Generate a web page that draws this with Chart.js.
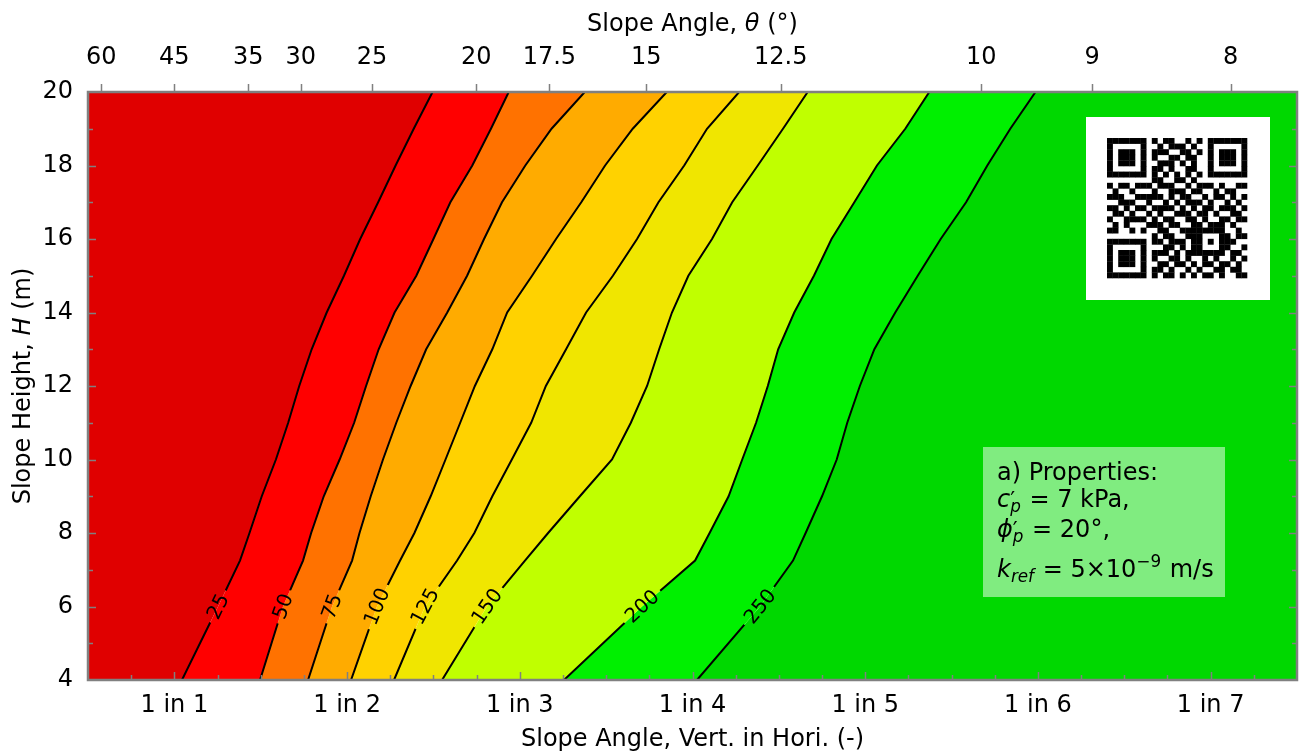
<!DOCTYPE html>
<html>
<head>
<meta charset="utf-8">
<script src="https://cdn.jsdelivr.net/npm/chart.js@4/dist/chart.umd.min.js"></script>
<style>
  html, body { margin: 0; padding: 0; background: #fff; }
</style>
</head>
<body>
<canvas id="chart" width="1299" height="751"></canvas>
<script>
// slope height (m) at which each contour was read
var heights = [4, 6, 7.25, 8, 9, 10, 11, 12, 13, 14, 15, 16, 17, 18, 19, 20];
var levels = [25, 50, 75, 100, 125, 150, 200, 250];

// horizontal part N of "1 in N" for every contour, one value per height
var ratio25  = [1.044, 1.253, 1.380, 1.435, 1.506, 1.588, 1.659, 1.723, 1.795, 1.882, 1.982, 2.076, 2.180, 2.281, 2.386, 2.495];
var ratio50  = [1.496, 1.629, 1.745, 1.792, 1.865, 1.957, 2.041, 2.110, 2.183, 2.275, 2.401, 2.500, 2.598, 2.725, 2.833, 2.936];
var ratio75  = [1.774, 1.913, 2.029, 2.072, 2.137, 2.208, 2.285, 2.368, 2.458, 2.580, 2.695, 2.793, 2.897, 3.032, 3.184, 3.376];
var ratio100 = [2.023, 2.173, 2.307, 2.390, 2.484, 2.570, 2.655, 2.740, 2.841, 2.927, 3.071, 3.210, 3.356, 3.494, 3.654, 3.851];
var ratio125 = [2.272, 2.451, 2.637, 2.737, 2.841, 2.954, 3.066, 3.151, 3.268, 3.384, 3.539, 3.679, 3.803, 3.952, 4.084, 4.270];
var ratio150 = [2.550, 2.810, 3.030, 3.164, 3.348, 3.534, 3.643, 3.737, 3.807, 3.881, 3.976, 4.113, 4.230, 4.378, 4.524, 4.667];
var ratio200 = [3.256, 3.708, 4.015, 4.099, 4.209, 4.288, 4.368, 4.436, 4.496, 4.589, 4.703, 4.805, 4.937, 5.068, 5.232, 5.371];
var ratio250 = [4.026, 4.391, 4.582, 4.655, 4.750, 4.835, 4.896, 4.969, 5.053, 5.174, 5.304, 5.437, 5.584, 5.707, 5.840, 5.986];

var ratioTicks = [1, 2, 3, 4, 5, 6, 7];
var angleTicks = [60, 45, 35, 30, 25, 20, 17.5, 15, 12.5, 10, 9, 8];
var heightTicks = [4, 6, 8, 10, 12, 14, 16, 18, 20];

var X_MIN = 0.5, X_MAX = 7.5;
var bandColors = ['#e00000', '#ff0000', '#ff7200', '#ffab00', '#ffd200', '#f0e600', '#c0ff00', '#00f000', '#00d800'];
var FONT = '"DejaVu Sans", "Liberation Sans", sans-serif';
var GREY = '#808080';

// QR code modules (25 x 25)
var qrRows = [
    "1111111010110010101111111",
    "1000001001011101001000001",
    "1011101011100110101011101",
    "1011101010011011001011101",
    "1011101001110101001011101",
    "1000001011010011001000001",
    "1111111010101010101111111",
    "0000000011001101000000000",
    "1011011101110010111010011",
    "0100100010011101100101100",
    "1110011111010110010110101",
    "0011100100101011101001010",
    "1101011011110101011011101",
    "0110100101001110110100110",
    "1001111010110011010011011",
    "0101000111011001101110100",
    "1100101001100111111110010",
    "0000000010110011100011011",
    "1111111011011101101011100",
    "1000001000110101100011001",
    "1011101011101011111110110",
    "1011101010011010010100101",
    "1011101001101101011011010",
    "1000001011010010100110110",
    "1111111010110101011010011"
];

var contours = [ratio25, ratio50, ratio75, ratio100, ratio125, ratio150, ratio200, ratio250];

function toPoints(arr) {
    return arr.map(function (x, i) { return {x: x, y: heights[i]}; });
}

var datasets = contours.map(function (arr, i) {
    return {
        label: String(levels[i]),
        data: toPoints(arr),
        borderColor: '#000',
        borderWidth: 2,
        pointRadius: 0,
        pointHitRadius: 0,
        backgroundColor: bandColors[i],
        fill: i === 0 ? {value: X_MIN} : '-1'
    };
});
// band to the right of the last contour
datasets.push({
    label: 'edge',
    data: toPoints(ratio250),
    borderWidth: 0,
    borderColor: 'rgba(0,0,0,0)',
    pointRadius: 0,
    pointHitRadius: 0,
    backgroundColor: bandColors[8],
    fill: {value: X_MAX}
});

function fontStr(italic, size) {
    return (italic ? 'italic ' : '') + size + 'px ' + FONT;
}

function runWidth(ctx, r, size) {
    if (r.t !== undefined) {
        ctx.font = fontStr(r.it, size);
        return ctx.measureText(r.t).width;
    }
    var w = 0;
    if (r.sup) { ctx.font = fontStr(r.supIt, size * (r.supScale || 0.7)); w = Math.max(w, ctx.measureText(r.sup).width); }
    if (r.sub) { ctx.font = fontStr(r.subIt, size * 0.7); w = Math.max(w, ctx.measureText(r.sub).width); }
    return w + 1;
}

// draws a line of text with italic / sub / sup pieces
function drawRich(ctx, runs, x, y, align, size) {
    var total = 0;
    runs.forEach(function (r) { total += runWidth(ctx, r, size); });
    var cx = align === 'center' ? x - total / 2 : x;
    ctx.textAlign = 'left';
    ctx.textBaseline = 'alphabetic';
    runs.forEach(function (r) {
        var w = runWidth(ctx, r, size);
        if (r.t !== undefined) {
            ctx.font = fontStr(r.it, size);
            ctx.fillText(r.t, cx, y);
        } else {
            if (r.sup) {
                ctx.font = fontStr(r.supIt, size * (r.supScale || 0.7));
                ctx.fillText(r.sup, cx, y - size * (r.supRaise !== undefined ? r.supRaise : 0.42));
            }
            if (r.sub) { ctx.font = fontStr(r.subIt, size * 0.7); ctx.fillText(r.sub, cx, y + size * 0.22); }
        }
        cx += w;
    });
}

var labelIndex = heights.indexOf(6);
var LABEL_SIZE = 20;

function labelGeometry(chart, i) {
    var meta = chart.getDatasetMeta(i);
    var p = meta.data[labelIndex], a = meta.data[labelIndex - 1], b = meta.data[labelIndex + 1];
    var ang = Math.atan2(b.y - a.y, b.x - a.x);
    chart.ctx.font = fontStr(false, LABEL_SIZE);
    var w = chart.ctx.measureText(String(levels[i])).width;
    return {x: p.x, y: p.y, ang: ang, w: w};
}

var contourPlugin = {
    id: 'contourExtras',
    beforeDatasetDraw: function (chart, args) {
        var i = args.index;
        if (i >= levels.length) return;
        var g = labelGeometry(chart, i);
        var ctx = chart.ctx;
        var hw = g.w / 2 + 5, hh = 12;
        var c = Math.cos(g.ang), s = Math.sin(g.ang);
        ctx.save();
        ctx.beginPath();
        ctx.rect(0, 0, chart.width, chart.height);
        var corners = [[-hw, -hh], [hw, -hh], [hw, hh], [-hw, hh]];
        corners.forEach(function (q, k) {
            var px = g.x + q[0] * c - q[1] * s;
            var py = g.y + q[0] * s + q[1] * c;
            if (k === 0) ctx.moveTo(px, py); else ctx.lineTo(px, py);
        });
        ctx.closePath();
        ctx.clip('evenodd');
    },
    afterDatasetDraw: function (chart, args) {
        if (args.index >= levels.length) return;
        chart.ctx.restore();
    },
    afterDraw: function (chart) {
        var ctx = chart.ctx;
        var area = chart.chartArea;
        var xs = chart.scales.x, xt = chart.scales.x2, ys = chart.scales.y;

        // contour labels
        ctx.save();
        ctx.fillStyle = '#000';
        ctx.font = fontStr(false, LABEL_SIZE);
        ctx.textAlign = 'center';
        ctx.textBaseline = 'middle';
        levels.forEach(function (lv, i) {
            var g = labelGeometry(chart, i);
            ctx.save();
            ctx.translate(g.x, g.y);
            ctx.rotate(g.ang);
            ctx.fillText(String(lv), 0, 1);
            ctx.restore();
        });
        ctx.restore();

        // inward ticks
        ctx.save();
        ctx.strokeStyle = GREY;
        ctx.lineWidth = 1.5;
        ctx.beginPath();
        for (var v = X_MIN + 0.25; v < X_MAX - 0.01; v += 0.25) {
            var px = Math.round(xs.getPixelForValue(v)) + 0.5;
            var len = Math.abs(v - Math.round(v)) < 1e-6 ? 8 : 5;
            ctx.moveTo(px, area.bottom);
            ctx.lineTo(px, area.bottom - len);
        }
        for (var h = 5; h < 20; h++) {
            var py = Math.round(ys.getPixelForValue(h)) + 0.5;
            var l2 = h % 2 === 0 ? 8 : 5;
            ctx.moveTo(area.left, py);
            ctx.lineTo(area.left + l2, py);
            ctx.moveTo(area.right, py);
            ctx.lineTo(area.right - l2, py);
        }
        angleTicks.forEach(function (a) {
            var px = Math.round(xt.getPixelForValue(1 / Math.tan(a * Math.PI / 180))) + 0.5;
            ctx.moveTo(px, area.top);
            ctx.lineTo(px, area.top - 8);
        });
        ctx.stroke();
        // frame
        ctx.lineWidth = 2.5;
        ctx.strokeRect(area.left, area.top, area.right - area.left, area.bottom - area.top);
        ctx.restore();

        // QR code box
        ctx.save();
        var boxR = area.right - 27, boxT = area.top + 25, boxS = 184;
        ctx.fillStyle = '#fff';
        ctx.fillRect(boxR - boxS, boxT, boxS, boxS - 1);
        var m = 5.6, qx = boxR - boxS + 21, qy = boxT + 21;
        ctx.fillStyle = '#000';
        qrRows.forEach(function (row, r) {
            for (var cidx = 0; cidx < row.length; cidx++) {
                if (row[cidx] === '1') ctx.fillRect(qx + cidx * m, qy + r * m, m + 0.3, m + 0.3);
            }
        });
        ctx.restore();

        // properties box
        ctx.save();
        var bx = area.right - 314, by = area.bottom - 233;
        ctx.fillStyle = 'rgba(255,255,255,0.5)';
        ctx.fillRect(bx, by, 242, 150);
        ctx.fillStyle = '#000';
        var tx = bx + 14;
        var prime = {sup: '\u2032', supScale: 0.9, supRaise: 0.02, sub: 'p', subIt: true};
        drawRich(ctx, [{t: 'a) Properties:'}], tx, by + 33, 'left', 24);
        drawRich(ctx, [{t: 'c', it: true}, prime, {t: ' = 7 kPa,'}], tx, by + 60, 'left', 24);
        drawRich(ctx, [{t: '\u03d5', it: true}, prime, {t: ' = 20\u00b0,'}], tx, by + 90, 'left', 24);
        drawRich(ctx, [{t: 'k', it: true}, {sub: 'ref', subIt: true}, {t: ' = 5\u00d710'}, {sup: '\u22129'}, {t: ' m/s'}], tx, by + 130, 'left', 24);
        ctx.restore();

        // axis titles
        ctx.save();
        ctx.fillStyle = '#000';
        var midX = (area.left + area.right) / 2;
        drawRich(ctx, [{t: 'Slope Angle, '}, {t: '\u03b8', it: true}, {t: ' (\u00b0)'}], midX, 31, 'center', 24);
        drawRich(ctx, [{t: 'Slope Angle, Vert. in Hori. (-)'}], midX, 746, 'center', 24);
        ctx.translate(30, (area.top + area.bottom) / 2);
        ctx.rotate(-Math.PI / 2);
        drawRich(ctx, [{t: 'Slope Height, '}, {t: 'H', it: true}, {t: ' (m)'}], 0, 0, 'center', 24);
        ctx.restore();
    }
};

Chart.defaults.font.family = FONT;
Chart.defaults.font.size = 24;
Chart.defaults.color = '#000';

new Chart(document.getElementById('chart').getContext('2d'), {
    type: 'line',
    data: {datasets: datasets},
    options: {
        indexAxis: 'y',
        responsive: false,
        animation: false,
        devicePixelRatio: 1,
        layout: {padding: 0},
        plugins: {
            legend: {display: false},
            tooltip: {enabled: false},
            filler: {drawTime: 'beforeDatasetsDraw'}
        },
        scales: {
            x: {
                type: 'linear', position: 'bottom', min: X_MIN, max: X_MAX,
                afterBuildTicks: function (s) { s.ticks = ratioTicks.map(function (v) { return {value: v}; }); },
                afterFit: function (s) { s.height = 71; },
                ticks: {
                    callback: function (v) { return '1 in ' + v; },
                    padding: 11, maxRotation: 0, autoSkip: false
                },
                grid: {display: false, drawTicks: false},
                border: {display: false}
            },
            x2: {
                type: 'linear', position: 'top', min: X_MIN, max: X_MAX,
                afterBuildTicks: function (s) {
                    s.ticks = angleTicks.map(function (a) { return {value: 1 / Math.tan(a * Math.PI / 180)}; });
                },
                afterFit: function (s) { s.height = 92; },
                ticks: {
                    callback: function (v, i) { return String(angleTicks[i]); },
                    padding: 20, maxRotation: 0, autoSkip: false
                },
                grid: {display: false, drawTicks: false},
                border: {display: false}
            },
            y: {
                type: 'linear', position: 'left', min: 4, max: 20,
                afterBuildTicks: function (s) { s.ticks = heightTicks.map(function (v) { return {value: v}; }); },
                afterFit: function (s) { s.width = 88; },
                ticks: {padding: 15, autoSkip: false},
                grid: {display: false, drawTicks: false},
                border: {display: false}
            },
            y2: {
                type: 'linear', position: 'right', min: 4, max: 20,
                afterFit: function (s) { s.width = 2; },
                ticks: {display: false},
                grid: {display: false, drawTicks: false},
                border: {display: false}
            }
        }
    },
    plugins: [contourPlugin]
});
</script>
</body>
</html>
